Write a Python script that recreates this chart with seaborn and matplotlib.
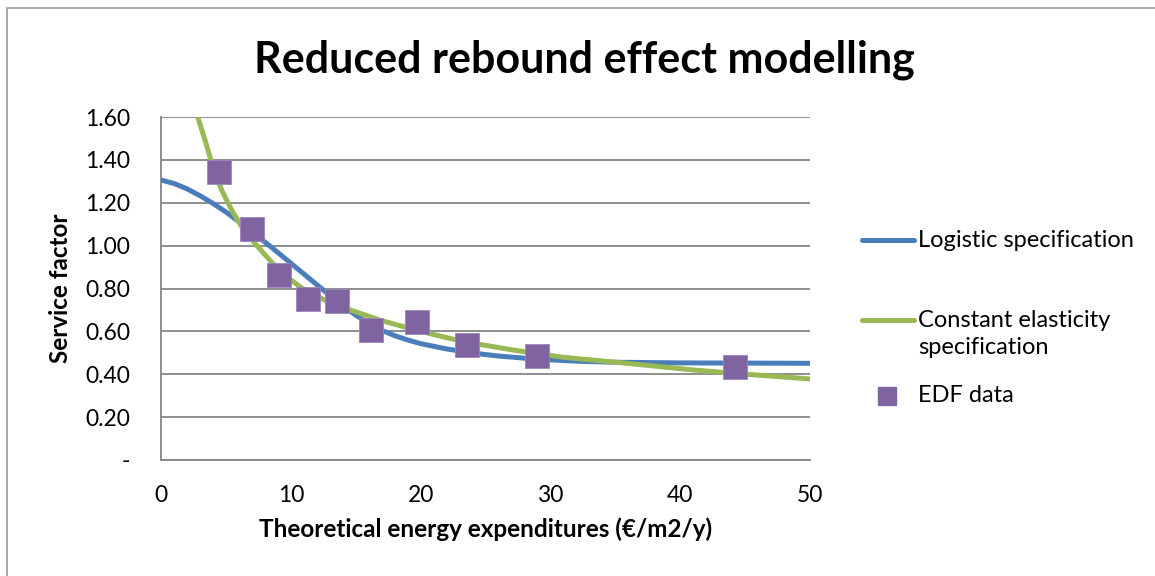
import numpy as np
import pandas as pd
import seaborn as sns
import matplotlib.pyplot as plt
import matplotlib.lines as mlines

# EDF observed data
edf_x = [4.47, 7.01, 9.07, 11.35, 13.53, 16.2, 19.72, 23.55, 28.97, 44.2]
edf_y = [1.345, 1.077, 0.864, 0.752, 0.743, 0.606, 0.645, 0.536, 0.485, 0.434]

# Logistic specification
logi_x = [0, 1, 2, 3, 4, 5, 6, 7, 8, 9, 10, 11, 12, 13, 14, 15, 16, 17, 18, 19,
          20, 22, 24, 26, 28, 30, 32, 35, 40, 45, 50]
logi_y = [1.306, 1.29, 1.265, 1.233, 1.197, 1.157, 1.112, 1.065, 1.017, 0.968,
          0.918, 0.868, 0.818, 0.768, 0.72, 0.676, 0.637, 0.605, 0.58, 0.56,
          0.543, 0.518, 0.499, 0.485, 0.475, 0.467, 0.461, 0.456, 0.453, 0.452, 0.451]

# Constant elasticity specification
ce_x = [2.83, 3.39, 4.03, 4.67, 5.44, 6.22, 7.24, 8.53, 9.81, 11.09, 12.63, 14,
        17, 20, 23.29, 27.14, 31, 35.9, 41, 44.2, 50]
ce_y = [1.60, 1.493, 1.36, 1.259, 1.166, 1.088, 1.01, 0.922, 0.849, 0.792, 0.746,
        0.712, 0.65, 0.60, 0.552, 0.513, 0.479, 0.451, 0.42, 0.404, 0.378]

yticks = [0, 0.2, 0.4, 0.6, 0.8, 1.0, 1.2, 1.4, 1.6]
ytick_labels = ["-", "0.20", "0.40", "0.60", "0.80", "1.00", "1.20", "1.40", "1.60"]
xticks = [0, 10, 20, 30, 40, 50]

blue = "#4A7EBB"
green = "#98B954"
purple = "#8064A2"
grey = "#868686"

sns.set_style("white")
plt.rcParams['font.family'] = ['Lato', 'DejaVu Sans']
plt.rcParams['text.color'] = 'black'
plt.rcParams['axes.labelcolor'] = 'black'

fig = plt.figure(figsize=(11.55, 5.76), dpi=100)
ax = fig.add_axes([161 / 1155, 1 - 460 / 576, (810 - 161) / 1155, (460 - 117) / 576])

df_logi = pd.DataFrame({"x": logi_x, "y": logi_y})
df_ce = pd.DataFrame({"x": ce_x, "y": ce_y})
df_edf = pd.DataFrame({"x": edf_x, "y": edf_y})

sns.lineplot(data=df_logi, x="x", y="y", ax=ax, color=blue, linewidth=3.6,
             sort=False, solid_capstyle="round", solid_joinstyle="round", zorder=3)
sns.lineplot(data=df_ce, x="x", y="y", ax=ax, color=green, linewidth=3.6,
             sort=False, solid_capstyle="round", solid_joinstyle="round", zorder=4)
sns.scatterplot(data=df_edf, x="x", y="y", ax=ax, marker="s", s=300, color=purple,
                edgecolor="#9C86BA", linewidth=0.6, zorder=5)

ax.set_xlim(0, 50)
ax.set_ylim(0, 1.6)
ax.set_xticks(xticks)
ax.set_yticks(yticks)
ax.set_yticklabels(ytick_labels)
ax.tick_params(axis="both", length=0, labelsize=16.5, colors="black")
ax.tick_params(axis="y", pad=22)
ax.tick_params(axis="x", pad=18)
ax.yaxis.grid(True, color=grey, linewidth=1.3)
ax.set_axisbelow(True)
for s in ["top", "right"]:
    ax.spines[s].set_visible(False)
for s in ["left", "bottom"]:
    ax.spines[s].set_color(grey)
    ax.spines[s].set_linewidth(1.3)

ax.set_xlabel("Theoretical energy expenditures (€/m2/y)", fontsize=17.5, fontweight="bold")
ax.set_ylabel("Service factor", fontsize=17.5, fontweight="bold")
ax.xaxis.set_label_coords(0.5, -(517 - 460) / 343)
ax.yaxis.set_label_coords(-(161 - 72) / 649, 0.5)

fig.text(584 / 1155, 1 - 60 / 576, "Reduced rebound effect modelling",
         fontsize=31, fontweight="bold", ha="center", va="center")

# legend drawn on the right side
def fy(py):
    return 1 - py / 576

fig.add_artist(mlines.Line2D([862 / 1155, 914 / 1155], [fy(240), fy(240)], color=blue,
                             linewidth=3.6, solid_capstyle="round"))
fig.text(918 / 1155, fy(240), "Logistic specification", fontsize=17, va="center")
fig.add_artist(mlines.Line2D([862 / 1155, 914 / 1155], [fy(320), fy(320)], color=green,
                             linewidth=3.6, solid_capstyle="round"))
fig.text(918 / 1155, fy(334), "Constant elasticity\nspecification", fontsize=17,
         va="center", linespacing=1.35)
fig.add_artist(mlines.Line2D([887 / 1155], [fy(396)], color=purple, marker="s",
                             markersize=13, linestyle="none"))
fig.text(918 / 1155, fy(396), "EDF data", fontsize=17, va="center")

# chart area border
fig.add_artist(mlines.Line2D([7 / 1155, 7 / 1155, 1.0], [0.0, fy(8), fy(8)],
                             color="#A0A0A0", linewidth=1.3))

plt.savefig("out.png", dpi=100)
